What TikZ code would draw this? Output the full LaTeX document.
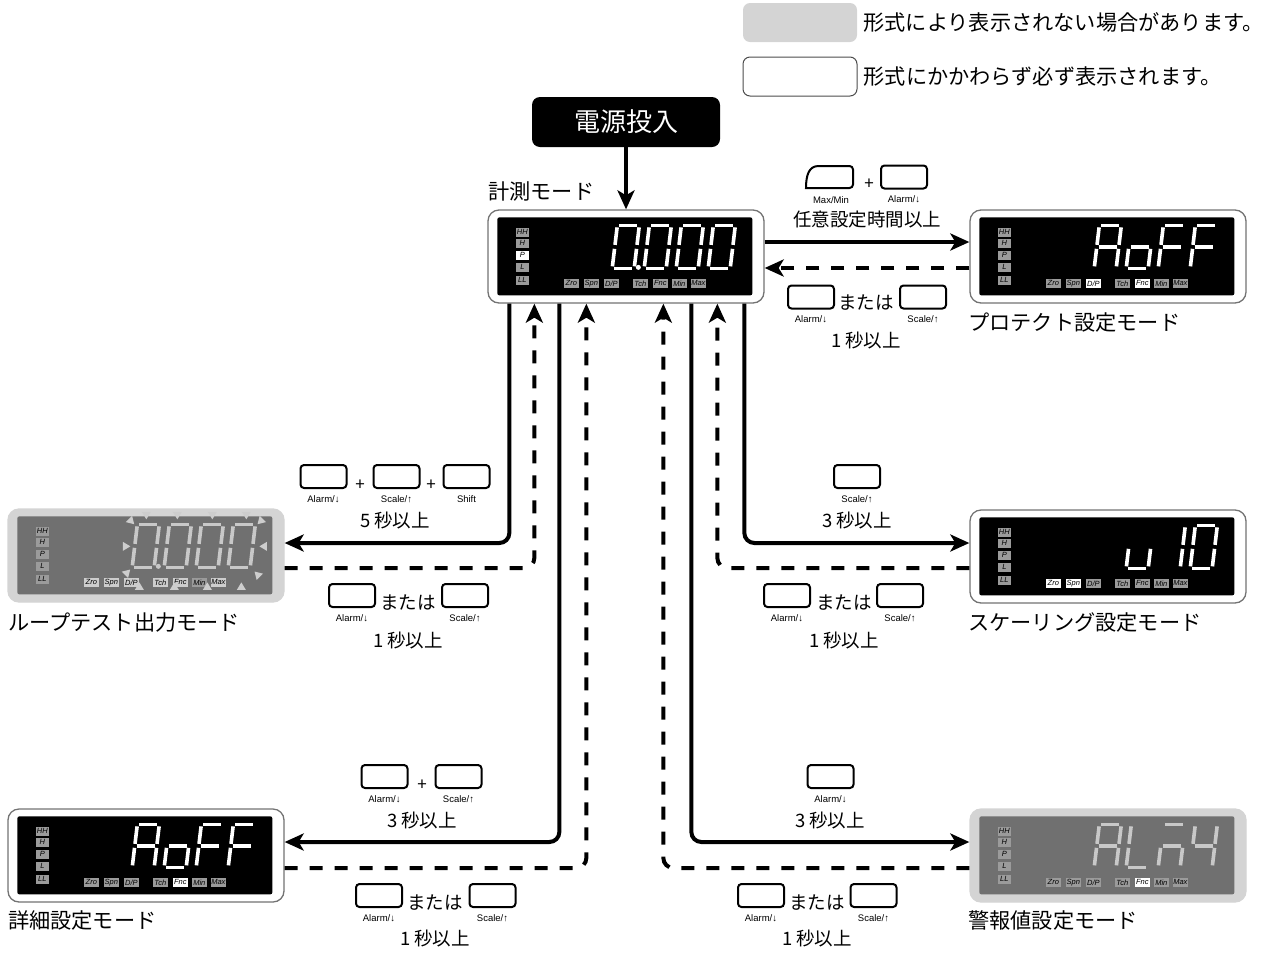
\documentclass[tikz,border=0pt]{standalone}
\usepackage{fontspec}
\setmainfont{Noto Sans CJK JP}
\newfontfamily\keyfont{Liberation Sans}
\usetikzlibrary{arrows.meta}
\definecolor{lcdgray}{RGB}{112,112,112}
\definecolor{rimgray}{RGB}{212,212,212}
\definecolor{indgray}{RGB}{155,155,155}
\definecolor{indlight}{RGB}{205,205,205}
\definecolor{seggray}{RGB}{200,200,200}

% seven segment parts (one digit cell, y downwards)
\def\segpa{(2,0)--(20,0)}
\def\segpb{(22,2)--(22,19.5)}
\def\segpc{(22,23.5)--(22,41)}
\def\segpd{(2,43)--(20,43)}
\def\segpe{(0,23.5)--(0,41)}
\def\segpf{(0,2)--(0,19.5)}
\def\segpg{(2,21.5)--(20,21.5)}
\newcommand{\digit}[3]{%
  \begin{scope}[shift={(98+32*#1,16)},xslant=0.12]
    \foreach \s in {#2}{\edef\segcmd{\noexpand\draw[seg,draw=#3] \csname segp\s\endcsname;}\segcmd}
  \end{scope}}
\newcommand{\lcdbase}[3]{%
  \fill[#2,rounded corners=2pt] (10,8) rectangle (265,86);
  \foreach \t/\y in {HH/23,H/34,P/46,L/58,LL/71}
    \node[lamp,fill=#3] (#1-l\y) at (35,\y) {\t};
  \foreach \t/\x in {Zro/84,Spn/104,{D/P}/124,Tch/153,Fnc/173,Min/192,Max/211}
    \node[blamp,fill=#3] (#1-b\x) at (\x,74) {\t};
}
\newcommand{\blink}[3]{\fill[blinkc,shift={(#1,#2)},rotate=#3] (-4.5,-3.5)--(4.5,-3.5)--(0,4)--cycle;}

\begin{document}
\begin{tikzpicture}[x=1pt,y=-1pt,
  panel/.style={draw=black!55,line width=1.3pt,fill=white,rounded corners=11pt,minimum width=276pt,minimum height=93pt,inner sep=0pt},
  gpanel/.style={panel,draw=rimgray,fill=rimgray},
  lamp/.style={inner sep=0pt,minimum width=13pt,minimum height=9.5pt,font=\keyfont\itshape\fontsize{7.5}{7.5}\selectfont},
  blamp/.style={lamp,minimum width=15.5pt},
  seg/.style={line width=3.6pt,line cap=butt},
  blinkc/.style={fill=indlight},
  flow/.style={line width=4pt,rounded corners=10pt,-{Stealth[length=19pt,width=17pt,inset=5pt]}},
  back/.style={flow,dash pattern=on 13pt off 12pt},
  key/.style={draw,line width=2pt,rounded corners=3.5pt,minimum width=46pt,minimum height=23pt,inner sep=0pt},
  keylbl/.style={font=\keyfont\fontsize{9.5}{10}\selectfont,inner sep=0pt},
  kl/.style={label={[keylbl,label distance=6pt]below:#1}},
  keytxt/.style={inner sep=0pt,font=\fontsize{18.5}{22}\selectfont},
  plus/.style={inner sep=0pt,font=\fontsize{17}{17}\selectfont},
  modetxt/.style={anchor=west,inner sep=0pt,font=\fontsize{21.2}{24}\selectfont}]
\useasboundingbox (0,0) rectangle (1264,954);

% legend
\node[fill=rimgray,rounded corners=7pt,minimum width=114pt,minimum height=39pt] (lgg) at (800,22.5) {};
\node[draw=black!70,line width=1pt,rounded corners=7pt,minimum width=114pt,minimum height=39pt] (lgw) at (800,76.5) {};
\node[modetxt] (lggt) at ([xshift=6pt]lgg.east) {形式により表示されない場合があります。};
\node[modetxt] (lgwt) at ([xshift=6pt]lgw.east) {形式にかかわらず必ず表示されます。};

% power on
\node[fill=black,rounded corners=8pt,minimum width=188pt,minimum height=50pt,text=white,font=\fontsize{26}{30}\selectfont] (power) at (626,122) {電源投入};

% measuring mode
\node[panel] (meas) at (626,256.5) {};
\node[modetxt] (meastxt) at (488,191) {計測モード};
\begin{scope}[shift={(meas.north west)}]
  \lcdbase{meas}{black}{indgray}
  \node[lamp,fill=white] (meas-hl) at (35,46) {P};
  \digit{1}{a,b,c,d,e,f}{white}
  \digit{2}{a,b,c,d,e,f}{white}
  \digit{3}{a,b,c,d,e,f}{white}
  \digit{4}{a,b,c,d,e,f}{white}
  \fill[white] (151,58) circle[radius=2.5pt];
\end{scope}

% protect mode
\node[panel] (prot) at (1108,256.5) {};
\node[modetxt] (prottxt) at (968,322) {プロテクト設定モード};
\begin{scope}[shift={(prot.north west)}]
  \lcdbase{prot}{black}{indgray}
  \node[blamp,fill=white] (prot-hl1) at (124,74) {D/P};
  \node[blamp,fill=white] (prot-hl2) at (173,74) {Fnc};
  \digit{1}{a,b,c,e,f,g}{white}
  \digit{2}{c,d,e,g}{white}
  \digit{3}{a,e,f,g}{white}
  \digit{4}{a,e,f,g}{white}
\end{scope}

% loop test mode
\node[gpanel] (loop) at (146,555.5) {};
\node[modetxt] (looptxt) at (8,622) {ループテスト出力モード};
\begin{scope}[shift={(loop.north west)}]
  \lcdbase{loop}{lcdgray}{indgray}
  \node[blamp,fill=indlight] (loop-z) at (84,74) {Zro};
  \node[blamp,fill=indlight] (loop-s) at (104,74) {Spn};
  \node[blamp,fill=indlight] (loop-d) at (124,74) {D/P};
  \node[blamp,fill=indlight] (loop-t) at (153,74) {Tch};
  \node[blamp,fill=indlight] (loop-f) at (173,74) {Fnc};
  \node[blamp,fill=indlight] (loop-m) at (211,74) {Max};
  \digit{1}{a,b,c,d,e,f}{seggray}
  \digit{2}{a,b,c,d,e,f}{seggray}
  \digit{3}{a,b,c,d,e,f}{seggray}
  \digit{4}{a,b,c,d,e,f}{seggray}
  \fill[seggray] (151,58) circle[radius=2.5pt];
  \foreach \x in {139,170,205,239} {\blink{\x}{7}{0}}
  \foreach \x in {132,167,200,234} {\blink{\x}{78}{180}}
  \blink{119}{38}{90}
  \blink{256}{38}{-90}
  \blink{124}{13}{45}
  \blink{253}{13}{-45}
  \blink{120}{64}{135}
  \blink{250}{66}{-135}
\end{scope}

% scaling mode
\node[panel] (scal) at (1108,556.5) {};
\node[modetxt] (scaltxt) at (968,622) {スケーリング設定モード};
\begin{scope}[shift={(scal.north west)}]
  \lcdbase{scal}{black}{indgray}
  \node[blamp,fill=white] (scal-hl1) at (84,74) {Zro};
  \node[blamp,fill=white] (scal-hl2) at (104,74) {Spn};
  \digit{2}{c,d,e}{white}
  \digit{3}{b,c}{white}
  \digit{4}{a,b,c,d,e,f}{white}
\end{scope}

% detail mode
\node[panel] (detl) at (146,855.5) {};
\node[modetxt] (detltxt) at (8,920) {詳細設定モード};
\begin{scope}[shift={(detl.north west)}]
  \lcdbase{detl}{black}{indgray}
  \node[blamp,fill=white] (detl-hl) at (173,74) {Fnc};
  \digit{1}{a,b,c,e,f,g}{white}
  \digit{2}{c,d,e,g}{white}
  \digit{3}{a,e,f,g}{white}
  \digit{4}{a,e,f,g}{white}
\end{scope}

% alarm value mode
\node[gpanel] (alrm) at (1108,855.5) {};
\node[modetxt] (alrmtxt) at (968,920) {警報値設定モード};
\begin{scope}[shift={(alrm.north west)}]
  \lcdbase{alrm}{lcdgray}{indgray}
  \node[blamp,fill=white] (alrm-hl) at (173,74) {Fnc};
  \digit{1}{a,b,c,e,f,g}{seggray}
  \digit{2}{d,e,f}{seggray}
  \digit{3}{a,c,e,g}{seggray}
  \digit{4}{b,c,f,g}{seggray}
\end{scope}

% connectors
\draw[flow] (power) -- (meas);
\draw[flow] ([yshift=14.5pt]meas.east) -- ([yshift=14.5pt]prot.west);
\draw[back] ([yshift=-11.5pt]prot.west) -- ([yshift=-11.5pt]meas.east);
\draw[flow] ([xshift=22pt]meas.south west) |- ([yshift=12.5pt]loop.east);
\draw[back] ([yshift=-12.5pt]loop.east) -| ([xshift=47pt]meas.south west);
\draw[flow] ([xshift=72pt]meas.south west) |- ([yshift=13.5pt]detl.east);
\draw[back] ([yshift=-12.5pt]detl.east) -| ([xshift=99pt]meas.south west);
\draw[flow] ([xshift=204pt]meas.south west) |- ([yshift=13.5pt]alrm.west);
\draw[back] ([yshift=-12.5pt]alrm.west) -| ([xshift=176pt]meas.south west);
\draw[flow] ([xshift=257pt]meas.south west) |- ([yshift=13.5pt]scal.west);
\draw[back] ([yshift=-11.5pt]scal.west) -| ([xshift=230pt]meas.south west);

% keys: protect
\draw[line width=2pt,rounded corners=3.5pt] (806,188) -- (853,188) -- (853,166) -- (822,166) [sharp corners] .. controls (809,166) and (806,175) .. (806,188) -- cycle;
\node[keylbl] (mmlbl) at (831,200) {Max/Min};
\node[plus] (pplus) at (869,184) {+};
\node[key,kl=Alarm/↓] (pk1) at (904,177) {};
\node[keytxt] (ptime) at (867,220) {任意設定時間以上};
\node[key,kl=Alarm/↓] (pk2) at (811,297) {};
\node[keytxt] (por) at (866,303) {または};
\node[key,kl=Scale/↑] (pk3) at (923,297) {};
\node[keytxt] (psec) at (866,340) {1 秒以上};

% keys: loop test
\node[key,kl=Alarm/↓] (lk1) at (323.5,476.5) {};
\node[plus] (lplus1) at (360,485) {+};
\node[key,kl=Scale/↑] (lk2) at (396.5,476.5) {};
\node[plus] (lplus2) at (431,485) {+};
\node[key,kl=Shift] (lk3) at (466.5,476.5) {};
\node[keytxt] (lsec) at (395,520) {5 秒以上};
\node[key,kl=Alarm/↓] (lk4) at (352,595.5) {};
\node[keytxt] (lor) at (408,603) {または};
\node[key,kl=Scale/↑] (lk5) at (465,595.5) {};
\node[keytxt] (lsec2) at (408,640) {1 秒以上};

% keys: detail
\node[key,kl=Alarm/↓] (dk1) at (384.5,776.5) {};
\node[plus] (dplus) at (422,785) {+};
\node[key,kl=Scale/↑] (dk2) at (458.5,776.5) {};
\node[keytxt] (dsec) at (422,820) {3 秒以上};
\node[key,kl=Alarm/↓] (dk3) at (379,895.5) {};
\node[keytxt] (dor) at (435,903) {または};
\node[key,kl=Scale/↑] (dk4) at (492.5,895.5) {};
\node[keytxt] (dsec2) at (435,938) {1 秒以上};

% keys: alarm value
\node[key,kl=Alarm/↓] (ak1) at (830.5,776.5) {};
\node[keytxt] (asec) at (830,820) {3 秒以上};
\node[key,kl=Alarm/↓] (ak2) at (761,895.5) {};
\node[keytxt] (aor) at (817,903) {または};
\node[key,kl=Scale/↑] (ak3) at (873.5,895.5) {};
\node[keytxt] (asec2) at (817,938) {1 秒以上};

% keys: scaling
\node[key,kl=Scale/↑] (sk1) at (857,476.5) {};
\node[keytxt] (ssec) at (857,520) {3 秒以上};
\node[key,kl=Alarm/↓] (sk2) at (787,595.5) {};
\node[keytxt] (sor) at (844,603) {または};
\node[key,kl=Scale/↑] (sk3) at (900,595.5) {};
\node[keytxt] (ssec2) at (844,640) {1 秒以上};
\end{tikzpicture}
\end{document}
